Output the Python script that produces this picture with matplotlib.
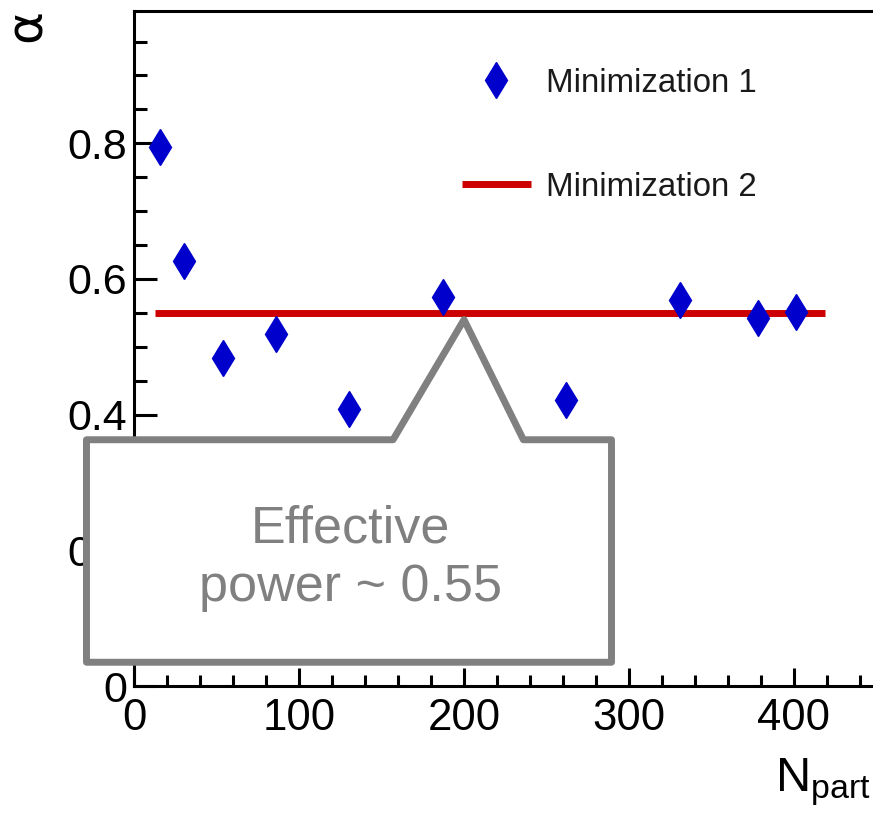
import matplotlib
matplotlib.use("Agg")
import matplotlib.pyplot as plt
from matplotlib.patches import Polygon
from matplotlib.ticker import MultipleLocator

# data
n_part = [16, 30, 54, 86, 130, 187, 262, 331, 378, 401]
alpha = [0.795, 0.627, 0.484, 0.519, 0.409, 0.574, 0.421, 0.569, 0.543, 0.551]
fit_x = [13, 419]
fit_alpha = [0.55, 0.55]
labels = ["Minimization 1", "Minimization 2"]
note = "Effective\npower ~ 0.55"

W, H = 873, 813
fig = plt.figure(figsize=(W / 100, H / 100), dpi=100)
# right spine sits just outside the picture, as in the reference
ax = fig.add_axes([134 / W, (H - 686) / H, (876.5 - 134) / W, (686 - 11) / H])
ax.set_xlim(0, 450)
ax.set_ylim(0, 0.995)

blue = "#0000cc"
red = "#cc0000"
grey = "#808080"

ax.plot(n_part, alpha, linestyle="none", marker="d", markersize=18.5,
        color=blue, label=labels[0], zorder=4)
ax.plot(fit_x, fit_alpha, color=red, linewidth=5, solid_capstyle="butt",
        label=labels[1], zorder=3)

for s in ax.spines.values():
    s.set_linewidth(2.2)
ax.xaxis.set_major_locator(MultipleLocator(100))
ax.xaxis.set_minor_locator(MultipleLocator(20))
ax.yaxis.set_major_locator(MultipleLocator(0.2))
ax.yaxis.set_minor_locator(MultipleLocator(0.05))
ax.yaxis.set_major_formatter(plt.FuncFormatter(lambda v, p: "0" if v == 0 else f"{v:.1f}"))
ax.tick_params(axis="both", which="both", direction="in", width=2.2,
               top=False, right=False)
ax.tick_params(axis="y", which="major", length=16.5, pad=5, labelsize=31)
ax.tick_params(axis="y", which="minor", length=9.4)
ax.tick_params(axis="x", which="major", length=13, pad=8.5, labelsize=31.5)
ax.tick_params(axis="x", which="minor", length=8)
for lab in ax.get_xticklabels() + ax.get_yticklabels():
    lab.set_fontfamily("Liberation Sans")

leg = ax.legend(loc="upper left", bbox_to_anchor=((462 - 134) / 1.65, 0.995 - (68 - 11) / 678),
                bbox_transform=ax.transData, frameon=False,
                prop={"family": "Liberation Sans", "size": 23.8},
                labelspacing=2.2, handlelength=2.08, handletextpad=0.45,
                borderpad=0, borderaxespad=0, numpoints=1)
for t in leg.get_texts():
    t.set_color("#1a1a1a")

# callout box with pointer (axes data coordinates)
box = [(-28.8, 0.035), (289.4, 0.035), (289.4, 0.363), (236, 0.363), (200, 0.54),
       (157, 0.363), (-28.8, 0.363)]
ax.add_patch(Polygon(box, closed=True, facecolor="white", edgecolor=grey,
                     linewidth=5, joinstyle="round", clip_on=False, zorder=10))
ax.text(131, 0.188, note, color=grey, fontsize=37.5, family="Liberation Sans",
        ha="center", va="center", linespacing=1.25, zorder=11)

fig.text(27 / W, 1 - 25 / H, "\u03b1", rotation=90, fontsize=36,
         ha="center", va="center")
fig.text(871 / W, 1 - 791 / H, r"$\mathregular{N_{part}}$", fontsize=35,
         family="Liberation Sans", ha="right", va="baseline")

fig.savefig("out.png", dpi=100)
